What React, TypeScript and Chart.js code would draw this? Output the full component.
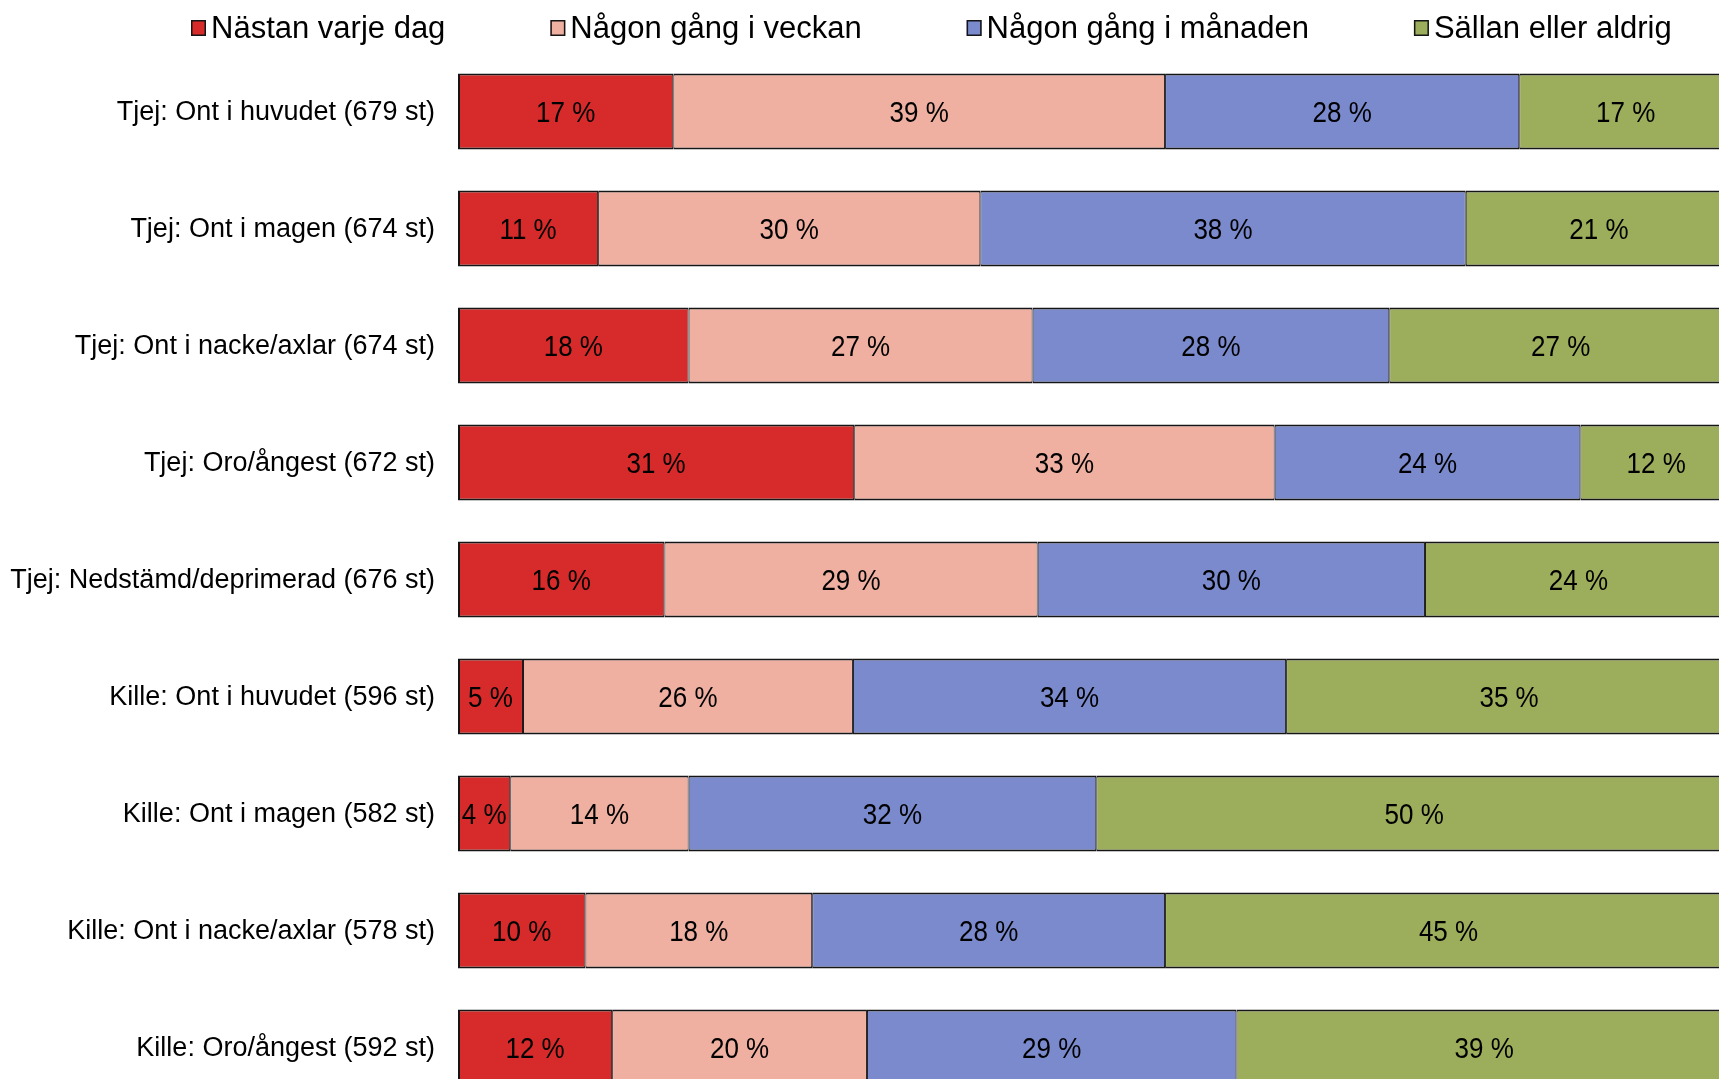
import React, { useEffect, useRef } from "react";
import { Chart, registerables } from "chart.js";

Chart.register(...registerables);

const categories = [
  "Tjej: Ont i huvudet (679 st)",
  "Tjej: Ont i magen (674 st)",
  "Tjej: Ont i nacke/axlar (674 st)",
  "Tjej: Oro/ångest (672 st)",
  "Tjej: Nedstämd/deprimerad (676 st)",
  "Kille: Ont i huvudet (596 st)",
  "Kille: Ont i magen (582 st)",
  "Kille: Ont i nacke/axlar (578 st)",
  "Kille: Oro/ångest (592 st)",
];

const seriesNames = [
  "Nästan varje dag",
  "Någon gång i veckan",
  "Någon gång i månaden",
  "Sällan eller aldrig",
];

const nastanVarjeDag = [16.9, 11.0, 18.1, 31.1, 16.2, 5.1, 4.1, 10.0, 12.1];
const nagonGangIVeckan = [38.6, 30.0, 27.0, 33.0, 29.3, 25.9, 14.0, 17.8, 20.0];
const nagonGangIManaden = [27.8, 38.1, 28.0, 24.0, 30.4, 34.0, 32.0, 27.7, 29.0];
const sallanEllerAldrig = [16.7, 20.9, 26.9, 11.9, 24.1, 35.0, 49.9, 44.5, 38.9];

const seriesValues = [nastanVarjeDag, nagonGangIVeckan, nagonGangIManaden, sallanEllerAldrig];
const seriesColors = ["#D72B2B", "#EFB0A1", "#7A8ACD", "#9CAE5B"];
const BORDER = "#151515";
const FONT = "'Liberation Sans', Arial, sans-serif";

const CANVAS_W = 1732;
const CANVAS_H = 1106;

const labelPlugin = {
  id: "segLabels",
  afterDatasetsDraw(chart: any) {
    const ctx = chart.ctx;
    const sy = 1.1;
    chart.data.datasets.forEach((ds: any, di: number) => {
      const meta = chart.getDatasetMeta(di);
      meta.data.forEach((el: any, i: number) => {
        const v = ds.data[i];
        const cx = (el.x + el.base) / 2;
        ctx.save();
        ctx.font = `26px ${FONT}`;
        ctx.fillStyle = "#000";
        ctx.textAlign = "center";
        ctx.textBaseline = "middle";
        ctx.translate(cx, el.y + 2.5);
        ctx.scale(1, sy);
        ctx.fillText(`${Math.round(v)} %`, 0, 0);
        ctx.restore();
      });
    });
  },
};

const legendPlugin = {
  id: "customLegend",
  afterDraw(chart: any) {
    const ctx = chart.ctx;
    ctx.save();
    ctx.font = `31px ${FONT}`;
    ctx.textBaseline = "middle";
    ctx.textAlign = "left";
    const y = 28;
    const bw = 15;
    const bh = 16;
    let x = 191;
    chart.data.datasets.forEach((ds: any) => {
      ctx.fillStyle = ds.backgroundColor;
      ctx.fillRect(x, y - bh / 2, bw, bh);
      ctx.strokeStyle = BORDER;
      ctx.lineWidth = 1.5;
      ctx.strokeRect(x + 0.75, y - bh / 2 + 0.75, bw - 1.5, bh - 1.5);
      const tx = x + bw + 5;
      ctx.fillStyle = "#000";
      ctx.fillText(ds.label, tx, y + 1);
      x = tx + ctx.measureText(ds.label).width + 105;
    });
    ctx.restore();
  },
};

export default function App() {
  const ref = useRef<HTMLCanvasElement | null>(null);

  useEffect(() => {
    if (!ref.current) return;
    const chart = new Chart(ref.current, {
      type: "bar",
      data: {
        labels: categories,
        datasets: seriesValues.map((vals, i) => ({
          label: seriesNames[i],
          data: vals,
          backgroundColor: seriesColors[i],
          borderColor: BORDER,
          borderWidth: {
            top: 2,
            bottom: 2,
            left: i === 0 ? 2 : 1,
            right: 1,
          },
          borderSkipped: false,
          barPercentage: 0.65,
          categoryPercentage: 1,
        })),
      },
      options: {
        indexAxis: "y",
        responsive: false,
        animation: false,
        devicePixelRatio: 1,
        layout: { padding: { top: 53, left: 0, right: 0, bottom: 0 } },
        plugins: {
          legend: { display: false },
          tooltip: { enabled: false },
        },
        scales: {
          x: {
            stacked: true,
            min: 0,
            max: 100,
            display: false,
          },
          y: {
            stacked: true,
            grid: { display: false, drawTicks: false },
            border: { display: false },
            ticks: {
              padding: 23,
              labelOffset: 1.5,
              color: "#000",
              font: { family: FONT, size: 27 },
            },
            afterFit: (s: any) => {
              s.width = 458;
              s.paddingTop = 0;
              s.paddingBottom = 0;
            },
          },
        },
      } as any,
      plugins: [labelPlugin, legendPlugin],
    });
    return () => chart.destroy();
  }, []);

  return (
    <div
      style={{
        position: "fixed",
        left: 0,
        top: 0,
        width: "100vw",
        height: "100vh",
        overflow: "hidden",
        background: "#fff",
      }}
    >
      <canvas
        ref={ref}
        width={CANVAS_W}
        height={CANVAS_H}
        style={{ position: "absolute", left: 0, top: 0, width: CANVAS_W, height: CANVAS_H }}
      />
    </div>
  );
}
